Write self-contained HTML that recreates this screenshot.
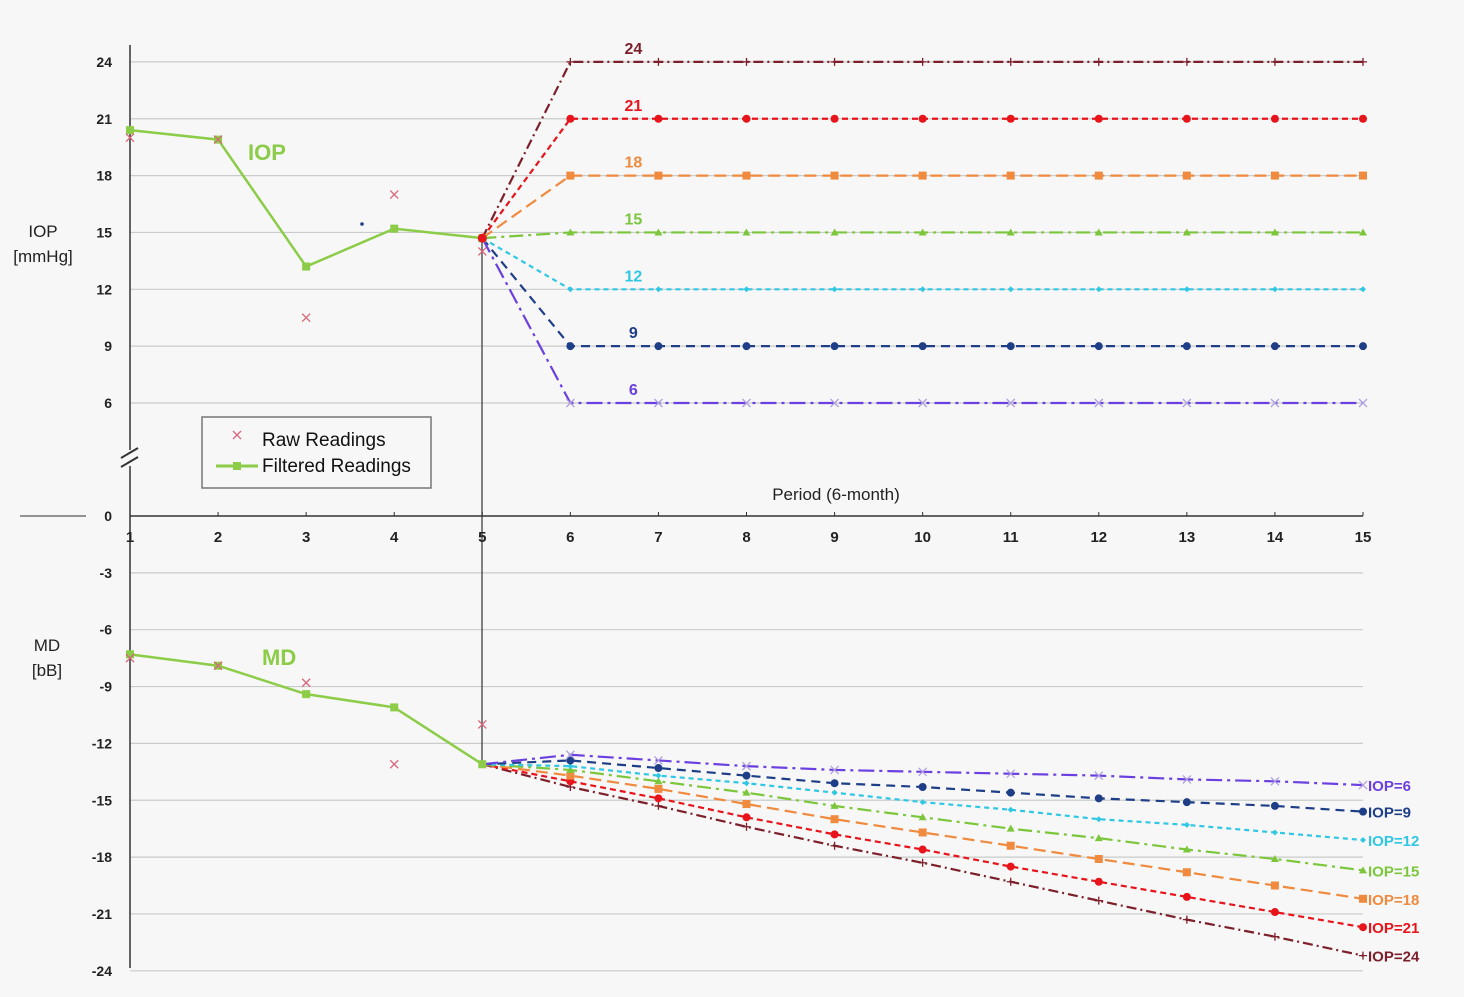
<!DOCTYPE html>
<html><head><meta charset="utf-8"><style>
html,body{margin:0;padding:0;background:#f6f7f6;}
svg{display:block;font-family:"Liberation Sans",sans-serif;}
</style></head><body>
<svg id="chart" width="1464" height="997" viewBox="0 0 1464 997" xmlns="http://www.w3.org/2000/svg">
<rect x="0" y="0" width="1464" height="997" fill="#f6f7f6"/>
<g id="grid"></g><g id="axes"></g><g id="series"></g><g id="labels"></g>
</svg>
<script>
const periods=[1,2,3,4,5,6,7,8,9,10,11,12,13,14,15];
const iopTicks=[6,9,12,15,18,21,24];
const mdTicks=[0,-3,-6,-9,-12,-15,-18,-21,-24];
const iopFiltered=[20.4,19.9,13.2,15.2,14.7];
const iopRaw=[20.0,19.9,10.5,17.0,14.0];
const mdFiltered=[-7.3,-7.9,-9.4,-10.1,-13.1];
const mdRaw=[-7.5,-7.9,-8.8,-13.1,-11.0];
const targetIop=[24,21,18,15,12,9,6];
const md24=[-13.1,-14.3,-15.3,-16.4,-17.4,-18.3,-19.3,-20.3,-21.3,-22.2,-23.2];
const md21=[-13.1,-14.0,-14.9,-15.9,-16.8,-17.6,-18.5,-19.3,-20.1,-20.9,-21.7];
const md18=[-13.1,-13.7,-14.4,-15.2,-16.0,-16.7,-17.4,-18.1,-18.8,-19.5,-20.2];
const md15=[-13.1,-13.4,-14.0,-14.6,-15.3,-15.9,-16.5,-17.0,-17.6,-18.1,-18.7];
const md12=[-13.1,-13.2,-13.7,-14.1,-14.6,-15.1,-15.5,-16.0,-16.3,-16.7,-17.1];
const md9=[-13.1,-12.9,-13.3,-13.7,-14.1,-14.3,-14.6,-14.9,-15.1,-15.3,-15.6];
const md6=[-13.1,-12.6,-12.9,-13.2,-13.4,-13.5,-13.6,-13.7,-13.9,-14.0,-14.2];

const NS="http://www.w3.org/2000/svg";
const X=p=>130+(p-1)*(1363-130)/14;
const YI=v=>403-(v-6)*18.95;
const YM=v=>516-v*18.95;
function mk(parent,tag,attrs,text){const e=document.createElementNS(NS,tag);for(const k in attrs)e.setAttribute(k,attrs[k]);if(text!==undefined)e.textContent=text;document.getElementById(parent).appendChild(e);return e;}
iopTicks.forEach(v=>{
 const l=mk('grid','line',{x1:130,x2:1363,y1:YI(v),y2:YI(v),stroke:'#c9cccb','stroke-width':1.2});
 
 
 const t=mk('labels','text',{x:112,y:YI(v)+5,'text-anchor':'end','font-size':14,'font-weight':'bold',fill:'#222'},v);
 
 
});
mdTicks.forEach(v=>{
 if(v!==0){const l=mk('grid','line',{x1:130,x2:1363,y1:YM(v),y2:YM(v),stroke:'#c9cccb','stroke-width':1.2});
 
 }
 const t=mk('labels','text',{x:112,y:YM(v)+5,'text-anchor':'end','font-size':14,'font-weight':'bold',fill:'#222'},v);
 
 
});
periods.forEach(p=>{
 const t=mk('labels','text',{x:X(p),y:542,'text-anchor':'middle','font-size':15,'font-weight':'bold',fill:'#222'},p);
 
 
 mk('axes','line',{x1:X(p),x2:X(p),y1:512,y2:516,stroke:'#333'});
});
mk('axes','line',{x1:130,x2:130,y1:45,y2:450,stroke:'#333','stroke-width':1.5});
mk('axes','line',{x1:130,x2:130,y1:466,y2:968,stroke:'#333','stroke-width':1.5});
mk('axes','line',{x1:121,x2:138,y1:458,y2:448,stroke:'#333','stroke-width':2});
mk('axes','line',{x1:121,x2:138,y1:467,y2:457,stroke:'#333','stroke-width':2});
mk('axes','line',{x1:130,x2:1363,y1:516,y2:516,stroke:'#333','stroke-width':1.5});
mk('axes','line',{x1:20,x2:86,y1:516,y2:516,stroke:'#555','stroke-width':1.2});
mk('axes','line',{x1:482,x2:482,y1:240,y2:762,stroke:'#333','stroke-width':1.2});
mk('labels','text',{x:43,y:237,'text-anchor':'middle','font-size':17,fill:'#222'},'IOP');
mk('labels','text',{x:43,y:262,'text-anchor':'middle','font-size':17,fill:'#222'},'[mmHg]');
mk('labels','text',{x:47,y:651,'text-anchor':'middle','font-size':17,fill:'#222'},'MD');
mk('labels','text',{x:47,y:676,'text-anchor':'middle','font-size':17,fill:'#222'},'[bB]');
mk('labels','text',{x:836,y:500,'text-anchor':'middle','font-size':17,fill:'#222'},'Period (6-month)');
mk('labels','text',{x:248,y:160,'font-size':22,'font-weight':'bold',fill:'#8ccc48'},'IOP');
mk('labels','text',{x:262,y:665,'font-size':22,'font-weight':'bold',fill:'#8ccc48'},'MD');

function marker(g,type,x,y,c){
 if(type==='circle')mk(g,'circle',{cx:x,cy:y,r:4,fill:c});
 else if(type==='square')mk(g,'rect',{x:x-4,y:y-4,width:8,height:8,fill:c});
 else if(type==='tri')mk(g,'path',{d:`M${x},${y-4}L${x+4},${y+3}L${x-4},${y+3}Z`,fill:c});
 else if(type==='diamond')mk(g,'path',{d:`M${x},${y-3}L${x+3},${y}L${x},${y+3}L${x-3},${y}Z`,fill:c});
 else if(type==='plus')mk(g,'path',{d:`M${x-4},${y}H${x+4}M${x},${y-4}V${y+4}`,stroke:c,'stroke-width':1.3});
 else if(type==='x')mk(g,'path',{d:`M${x-4},${y-4}L${x+4},${y+4}M${x+4},${y-4}L${x-4},${y+4}`,stroke:c,'stroke-width':1.3});
}
const styles=[
 {iop:24,md:md24,c:'#7d1f2b',dash:'10 4 2 4',m:'plus',lc:'#7d1f2b'},
 {iop:21,md:md21,c:'#e8141c',dash:'6 4',m:'circle',lc:'#e8141c'},
 {iop:18,md:md18,c:'#ef8a3e',dash:'12 6',m:'square',lc:'#ef8a3e'},
 {iop:15,md:md15,c:'#7cc63c',dash:'14 5 3 5',m:'tri',lc:'#7cc63c'},
 {iop:12,md:md12,c:'#2fc7e4',dash:'5 4',m:'diamond',lc:'#2fc7e4'},
 {iop:9,md:md9,c:'#1f3e88',dash:'9 6',m:'circle',lc:'#1f3e88'},
 {iop:6,md:md6,c:'#6b3fe0',dash:'16 5 3 5',m:'x',lc:'#b0a0e0'}
];
styles.forEach(s=>{
 const g=mk('series','g',{});
 
 
 const gid='s'+s.iop;g.id=gid;
 let pts=[[X(5),YI(iopFiltered[4])]];
 for(let p=6;p<=15;p++)pts.push([X(p),YI(s.iop)]);
 mk(gid,'polyline',{points:pts.map(q=>q.join(',')).join(' '),fill:'none',stroke:s.c,'stroke-width':2.2,'stroke-dasharray':s.dash});
 for(let i=1;i<pts.length;i++)marker(gid,s.m,pts[i][0],pts[i][1],s.m==='x'?s.lc:s.c);
 const t=mk(gid,'text',{x:X(6)+63,y:YI(s.iop)-8,'text-anchor':'middle','font-size':16,'font-weight':'bold',fill:s.c},s.iop);
 
 
 let mp=s.md.map((v,i)=>[X(5+i),YM(v)]);
 mk(gid,'polyline',{points:mp.map(q=>q.join(',')).join(' '),fill:'none',stroke:s.c,'stroke-width':2.2,'stroke-dasharray':s.dash});
 for(let i=1;i<mp.length;i++)marker(gid,s.m,mp[i][0],mp[i][1],s.m==='x'?s.lc:s.c);
 const t2=mk(gid,'text',{x:1368,y:YM(s.md[10])+6,'font-size':15,'font-weight':'bold',fill:s.c},'IOP='+s.iop);
 
 
});
const hg=mk('series','g',{id:'hist'});


mk('hist','polyline',{points:iopFiltered.map((v,i)=>X(i+1)+','+YI(v)).join(' '),fill:'none',stroke:'#8ccc48','stroke-width':2.5});
mk('hist','polyline',{points:mdFiltered.map((v,i)=>X(i+1)+','+YM(v)).join(' '),fill:'none',stroke:'#8ccc48','stroke-width':2.5});
iopFiltered.forEach((v,i)=>marker('hist','square',X(i+1),YI(v),'#8ccc48'));
mdFiltered.forEach((v,i)=>marker('hist','square',X(i+1),YM(v),'#8ccc48'));
iopRaw.forEach((v,i)=>marker('hist','x',X(i+1),YI(v),'#d9667a'));
mdRaw.forEach((v,i)=>marker('hist','x',X(i+1),YM(v),'#d9667a'));
mk('hist','circle',{cx:X(5),cy:YI(iopFiltered[4]),r:4.5,fill:'#e8141c'});
mk('hist','circle',{cx:362,cy:224,r:1.8,fill:'#1f3e88'});
const lg=mk('labels','g',{id:'legend'});


mk('legend','rect',{x:202,y:417,width:229,height:71,fill:'#f6f7f6',stroke:'#777','stroke-width':1.5});
marker('legend','x',237,435,'#d9667a');
mk('legend','text',{x:262,y:446,'font-size':19,fill:'#111'},'Raw Readings');
mk('legend','line',{x1:216,x2:258,y1:466,y2:466,stroke:'#8ccc48','stroke-width':3});
marker('legend','square',237,466,'#8ccc48');
mk('legend','text',{x:262,y:472,'font-size':19,fill:'#111'},'Filtered Readings');
</script>
</body></html>
